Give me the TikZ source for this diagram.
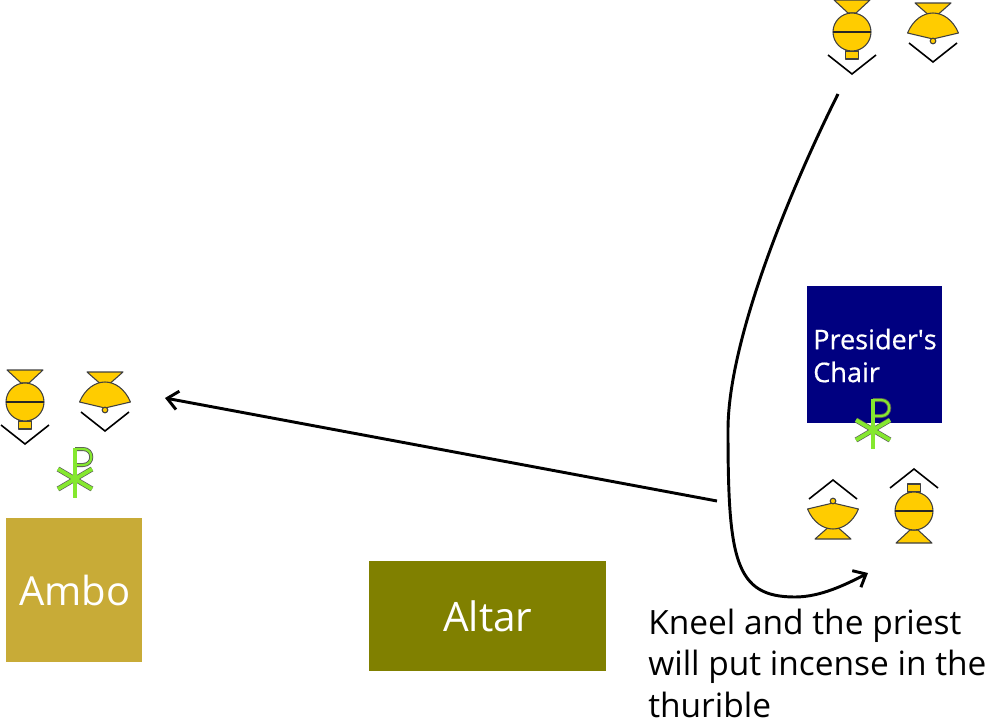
\documentclass[tikz,border=0pt]{standalone}
\usepackage{fontspec}
\setmainfont{Open Sans}
\newfontfamily\chairfont[RawFeature={embolden=0.6}]{Open Sans}
\usetikzlibrary{arrows.meta,positioning}
\definecolor{ambocol}{HTML}{C8AB37}
\definecolor{altarcol}{HTML}{808000}
\definecolor{chaircol}{HTML}{000080}
\definecolor{robecol}{HTML}{FFCC00}
\definecolor{chicol}{HTML}{85E82F}
\def \pu {0.75pt}
\tikzstyle{furniture} = [inner sep=0,text=white,anchor=north west]
\tikzstyle{robe} = [fill=robecol,draw=black!75,line width=0.8pt,line join=round]
\tikzstyle{facing} = [draw=black,line width=1.2pt]
\tikzstyle{route} = [draw=black,line width=2.2pt,-{Straight Barb[length=8pt,width=14pt,line width=2.2pt]}]
\tikzset{
  thurifer/.pic={
    \draw[robe] (-18,-32) -- (18,-32) -- (4,-19) -- (-4,-19) -- cycle;
    \draw[robe] (-6.5,19) rectangle (6.5,27);
    \draw[robe] (0,0) circle[radius=19];
    \draw[line width=1.8pt,draw=black!85] (-19,0) -- (19,0);
    \draw[facing] (-24,23) -- (0,42) -- (24,23);
  },
  boatbearer/.pic={
    \draw[robe] (-18,-30) -- (18,-30) -- (5.5,-19) -- (-5.5,-19) -- cycle;
    \draw[robe] (-25.5,0) .. controls (-20,-13) and (-10,-20) .. (0,-20)
      .. controls (10,-20) and (20,-13) .. (25.5,0) -- (0,6) -- cycle;
    \draw[robe] (0,8) circle[radius=2.8];
    \draw[facing] (-24,10) -- (0,29) -- (24,10);
  },
  chirho/.pic={
    \foreach \wa/\wb/\wc/\c in {3.6/3.9/3.0/black!65,2.5/2.9/1.7/chicol}{
      \draw[line width=\wa pt,color=\c] (0,-31) -- (0,18.5);
      \draw[line width=\wb pt,color=\c] (-17,-10) -- (17,10);
      \draw[line width=\wb pt,color=\c] (-17,10) -- (17,-10);
      \draw[line width=\wc pt,color=\c] (0,-30) -- (8,-30) .. controls (19,-30) and (19,-14) .. (8,-14) -- (0,-14);
    }
  }
}

\begin{document}
\begin{tikzpicture}[x=\pu,y=-\pu]
      \useasboundingbox (0,0) rectangle (986,718);
      \node[furniture,fill=ambocol,minimum width=136*\pu,minimum height=144*\pu,font=\fontsize{30}{34}\selectfont,align=center] (ambo) at (6,518) {\kern1pt Ambo};
      \node[furniture,fill=altarcol,minimum width=237*\pu,minimum height=110*\pu,font=\fontsize{30.4}{34}\selectfont,align=center] (altar) at (369,561) {Altar};
      \node[furniture,fill=chaircol,minimum width=135*\pu,minimum height=137*\pu] (chair) at (807,286) {};
      \node[inner sep=0,text=white,anchor=west,align=left,font=\chairfont\fontsize{20.3}{24.7}\selectfont] (chairlabel) at (813,355.5) {Presider\textquotesingle s\\Chair};
      \node[inner sep=0,anchor=north west,align=left,font=\fontsize{25.1}{31.2}\selectfont] (kneel) at (648,608.5) {Kneel and the priest\\will put incense in the\\thurible};
      % servers
      \pic (thuriferTop) at (852,32) {thurifer};
      \pic (boatTop) at (933,33) {boatbearer};
      \pic (thuriferAmbo) at (25,402) {thurifer};
      \pic (boatAmbo) at (105,402) {boatbearer};
      \pic[rotate=180] (thuriferChair) at (914,511) {thurifer};
      \pic[rotate=180] (boatChair) at (833,509) {boatbearer};
      \pic (chiAmbo) at (75,479) {chirho};
      \pic (chiChair) at (873,430) {chirho};
      % routes
      \coordinate (leave) at (838,94);
      \coordinate (kneelpos) at (868,573);
      \coordinate (cross) at (717,501);
      \coordinate (ambopos) at (165,398);
      \draw[route] (leave) .. controls (790,190) and (728,340) .. (728,430)
        .. controls (728,560) and (735,597) .. (795,597)
        .. controls (820,597) and (845,585) .. (kneelpos);
      \draw[route] (cross) -- (ambopos);
    \end{tikzpicture}
\end{document}
